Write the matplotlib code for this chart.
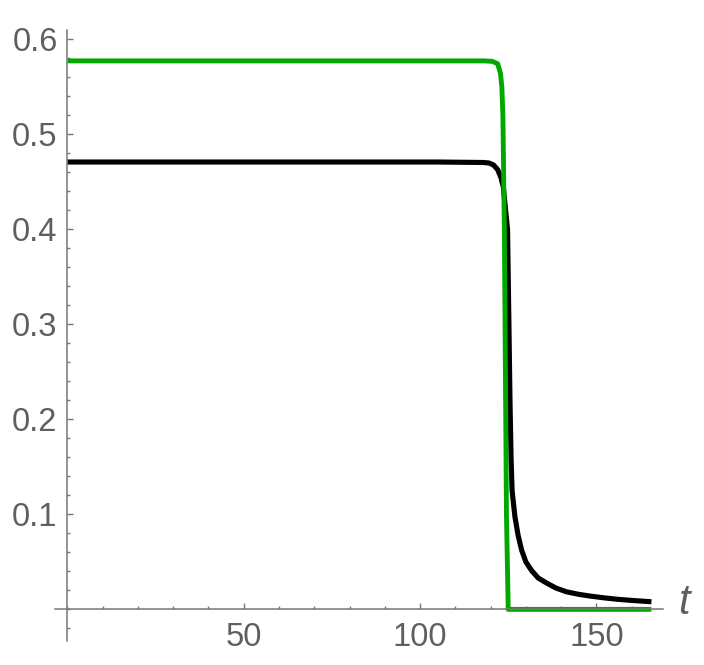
import matplotlib
matplotlib.use("Agg")
import matplotlib.pyplot as plt
from matplotlib.ticker import FixedLocator, MultipleLocator, FixedFormatter

# Data
t_black = [0, 105, 118, 119.5, 120.8, 122.0, 122.9, 123.6, 124.8, 125.2, 125.5,
           125.8, 126.1, 126.9, 127.8, 128.8, 130.0, 131.6, 133.5, 135.9, 138.5,
           141.5, 145.0, 148.2, 152, 156, 160, 165.6]
y_black = [0.471, 0.471, 0.4705, 0.470, 0.468, 0.463, 0.455, 0.445, 0.40, 0.30, 0.22,
           0.16, 0.125, 0.0975, 0.078, 0.0624, 0.050, 0.041, 0.033, 0.0277, 0.0225,
           0.0185, 0.0158, 0.014, 0.0122, 0.0106, 0.0094, 0.008]

t_green = [0, 118, 120.5, 122, 122.8, 123.2, 123.5, 123.9, 124.2, 124.5, 125.0, 165.6]
y_green = [0.5775, 0.5775, 0.577, 0.5745, 0.5645, 0.550, 0.518, 0.40, 0.25, 0.10, 0.0, 0.0]

y_major = [0.1, 0.2, 0.3, 0.4, 0.5, 0.6]
y_labels = ["0.1", "0.2", "0.3", "0.4", "0.5", "0.6"]
x_major = [50, 100, 150]
x_labels = ["50", "100", "150"]

fig = plt.figure(figsize=(7.04, 6.65), dpi=100)
ax = fig.add_axes([55 / 704, (665 - 640.7) / 665, 607.7 / 704, 610.7 / 665])

ax.plot(t_black, y_black, color="black", lw=3.7, solid_capstyle="butt", solid_joinstyle="round")
ax.plot(t_green, y_green, color="#00a800", lw=3.5, solid_capstyle="butt", solid_joinstyle="round")

ax.set_xlim(-3.5, 168.8)
ax.set_ylim(-0.033, 0.61)

axcol = "#777777"
for s in ["top", "right"]:
    ax.spines[s].set_visible(False)
ax.spines["left"].set_position(("data", 0))
ax.spines["bottom"].set_position(("data", 0))
for s in ["left", "bottom"]:
    ax.spines[s].set_color(axcol)
    ax.spines[s].set_linewidth(1.1)

ax.yaxis.set_major_locator(FixedLocator(y_major))
ax.yaxis.set_major_formatter(FixedFormatter(y_labels))
ax.yaxis.set_minor_locator(MultipleLocator(0.02))
ax.xaxis.set_major_locator(FixedLocator(x_major))
ax.xaxis.set_major_formatter(FixedFormatter(x_labels))
ax.xaxis.set_minor_locator(MultipleLocator(10))

font = "Liberation Sans"
ax.tick_params(which="both", direction="in", color=axcol, width=1.0)
ax.tick_params(which="major", length=4.5, labelsize=23.5, labelcolor="#5f5f5f")
ax.tick_params(which="minor", length=2.5)
ax.tick_params(axis="y", which="major", pad=7)
ax.tick_params(axis="x", which="major", pad=9)
for lab in ax.get_xticklabels() + ax.get_yticklabels():
    lab.set_fontfamily(font)

ax.text(684 / 704, (665 - 603) / 665, "t", transform=fig.transFigure, fontsize=30,
        fontstyle="italic", family=font, color="#5f5f5f", ha="center", va="center")

fig.savefig("out.png", dpi=100)
